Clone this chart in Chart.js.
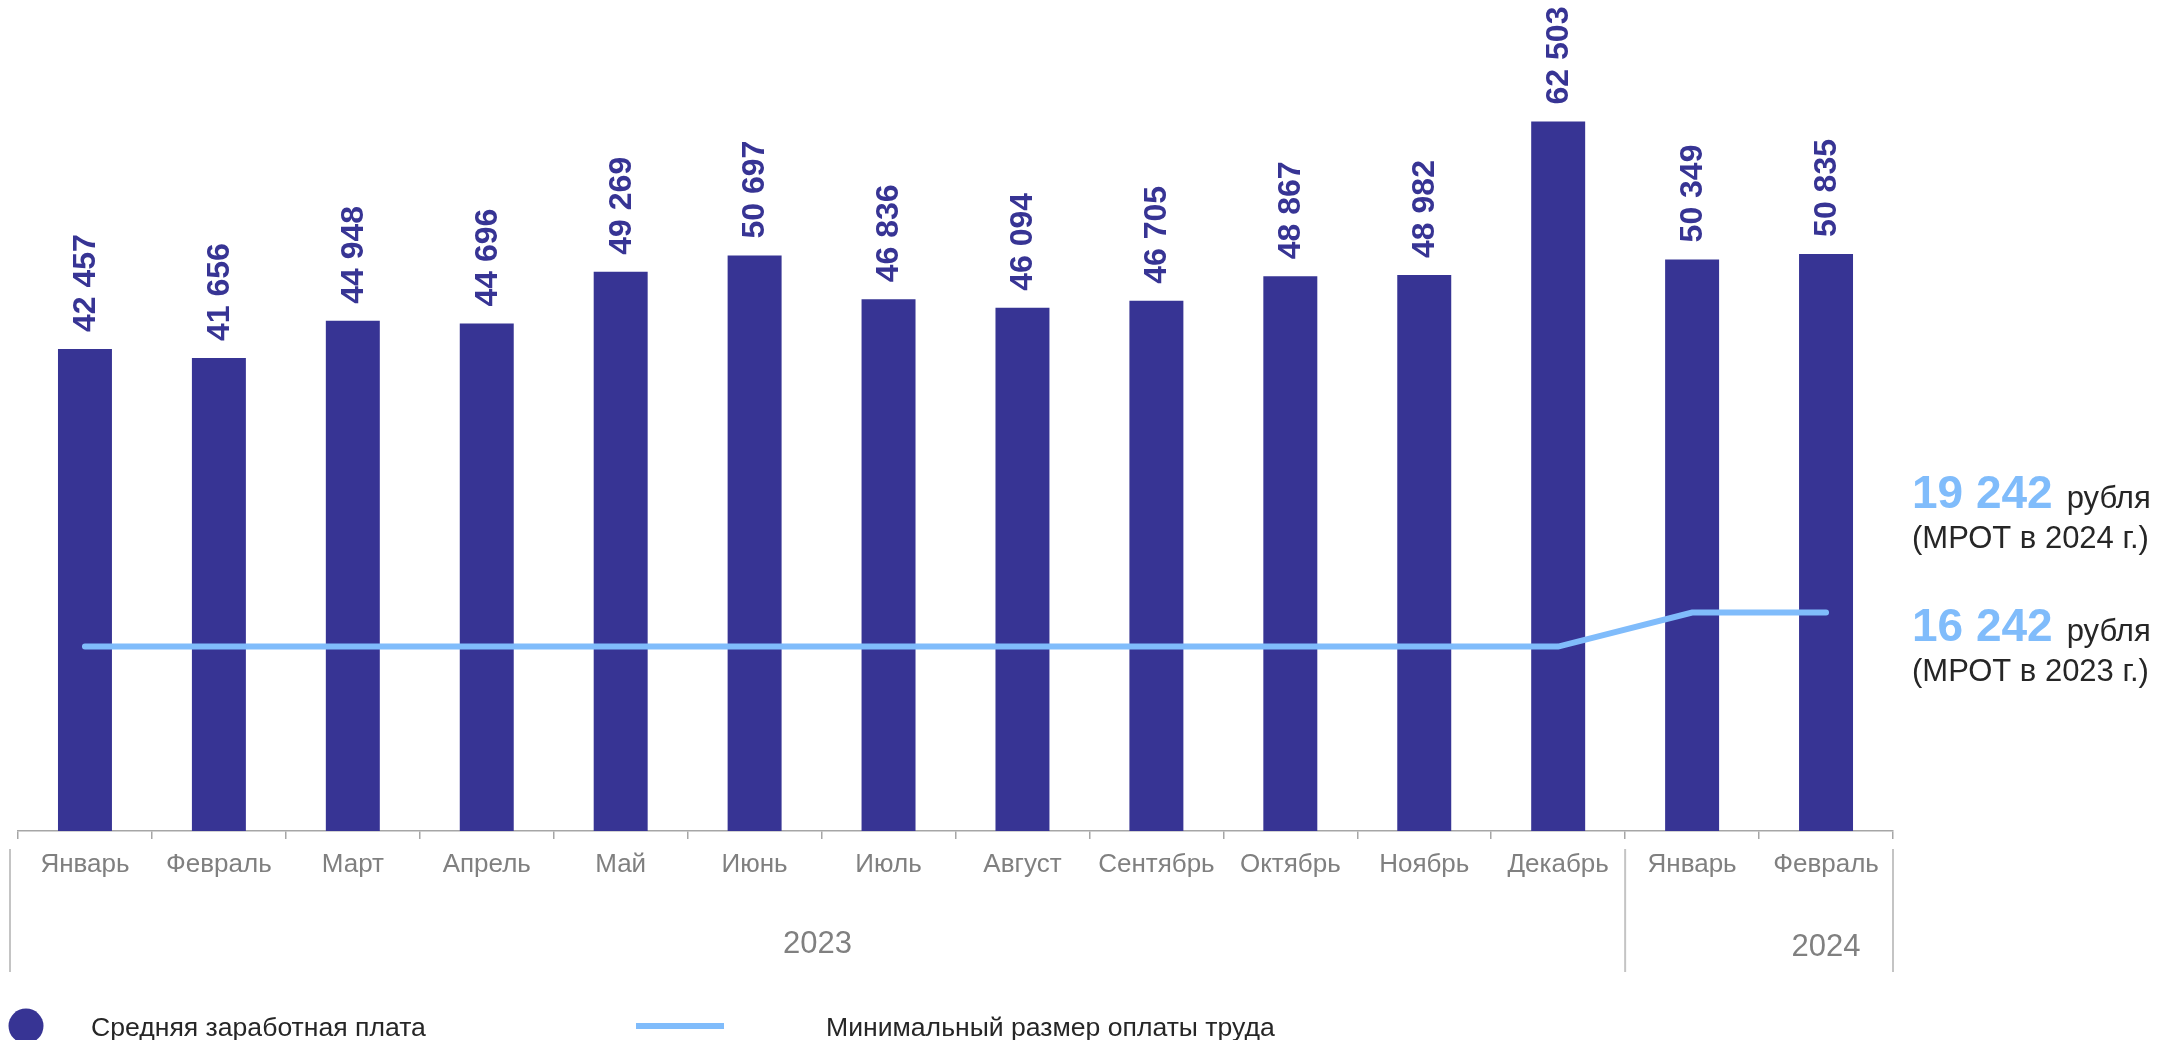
<!DOCTYPE html>
<html>
<head>
<meta charset="utf-8">
<script src="https://cdn.jsdelivr.net/npm/chart.js@4/dist/chart.umd.min.js"></script>
<style>
html,body{margin:0;padding:0;background:#fff;}
#wrap{position:relative;width:2162px;height:1040px;}
</style>
</head>
<body>
<div id="wrap"><canvas id="c"></canvas></div>
<script>
const months = ['Январь','Февраль','Март','Апрель','Май','Июнь','Июль','Август','Сентябрь','Октябрь','Ноябрь','Декабрь','Январь','Февраль'];
const salary = [42457,41656,44948,44696,49269,50697,46836,46094,46705,48867,48982,62503,50349,50835];
const mrot = [16242,16242,16242,16242,16242,16242,16242,16242,16242,16242,16242,16242,19242,19242];
const years = ['2023','2024'];
const yearCounts = [12,2];
const seriesNames = ['Средняя заработная плата','Минимальный размер оплаты труда'];
const mrotNotes = [
  {value:19242, unit:'рубля', note:'(МРОТ в 2024 г.)'},
  {value:16242, unit:'рубля', note:'(МРОТ в 2023 г.)'}
];

const BAR = '#373494';
const LINE = '#80bcfb';
const GRAY = '#808080';
const DARK = '#262626';
const FONT = '"Liberation Sans", Arial, sans-serif';
const fmt = n => n.toString().replace(/\B(?=(\d{3})+(?!\d))/g, ' ');

const overlay = {
  id: 'overlay',
  afterDatasetsDraw(chart) {
    const ctx = chart.ctx;
    const meta = chart.getDatasetMeta(1);
    ctx.save();
    ctx.fillStyle = BAR;
    ctx.font = 'bold 32px ' + FONT;
    ctx.textAlign = 'left';
    ctx.textBaseline = 'middle';
    meta.data.forEach((bar, i) => {
      ctx.save();
      ctx.translate(bar.x, bar.y - 17);
      ctx.rotate(-Math.PI / 2);
      ctx.fillText(fmt(salary[i]), 0, 1);
      ctx.restore();
    });
    ctx.restore();
  },
  afterDraw(chart) {
    const ctx = chart.ctx;
    const xs = chart.scales.x;
    const ys = chart.scales.y;
    const ca = chart.chartArea;
    const step = xs.getPixelForValue(1) - xs.getPixelForValue(0);
    ctx.save();
    ctx.strokeStyle = '#c4c4c4';
    ctx.lineWidth = 2;
    const top = ca.bottom + 18, bot = ca.bottom + 141;
    const seps = [ca.left - 8];
    let idx = 0;
    yearCounts.forEach(c => { idx += c; seps.push(xs.getPixelForValue(idx - 1) + step / 2); });
    seps.forEach(x => { ctx.beginPath(); ctx.moveTo(x, top); ctx.lineTo(x, bot); ctx.stroke(); });
    ctx.fillStyle = GRAY;
    ctx.font = '31px ' + FONT;
    ctx.textAlign = 'center';
    ctx.textBaseline = 'middle';
    ctx.fillText(years[0], (seps[0] + seps[1]) / 2, ca.bottom + 113);
    ctx.fillText(years[1], xs.getPixelForValue(yearCounts[0] + yearCounts[1] - 1), ca.bottom + 116);
    const y16 = ys.getPixelForValue(mrotNotes[1].value);
    const ax = ca.right + 19;
    const baselines = [y16 - 139, y16 - 6];
    ctx.textAlign = 'left';
    ctx.textBaseline = 'alphabetic';
    mrotNotes.forEach((m, i) => {
      const b = baselines[i];
      ctx.font = 'bold 46px ' + FONT;
      ctx.fillStyle = LINE;
      const t = fmt(m.value);
      ctx.fillText(t, ax, b);
      const w = ctx.measureText(t).width;
      ctx.font = '31px ' + FONT;
      ctx.fillStyle = DARK;
      ctx.fillText(m.unit, ax + w + 14, b);
      ctx.fillText(m.note, ax, b + 40);
    });
    ctx.fillStyle = BAR;
    ctx.beginPath();
    ctx.arc(26, 1026, 17.5, 0, Math.PI * 2);
    ctx.fill();
    ctx.strokeStyle = LINE;
    ctx.lineWidth = 6;
    ctx.beginPath();
    ctx.moveTo(636, 1026);
    ctx.lineTo(724, 1026);
    ctx.stroke();
    ctx.fillStyle = DARK;
    ctx.font = '26.6px ' + FONT;
    ctx.textBaseline = 'middle';
    ctx.fillText(seriesNames[0], 91, 1029);
    ctx.fillText(seriesNames[1], 826, 1029);
    ctx.restore();
  }
};

new Chart(document.getElementById('c'), {
  data: {
    labels: months,
    datasets: [
      {
        type: 'line',
        label: seriesNames[1],
        data: mrot,
        borderColor: LINE,
        borderWidth: 6,
        borderCapStyle: 'round',
        pointRadius: 0,
        tension: 0,
        order: 0
      },
      {
        type: 'bar',
        label: seriesNames[0],
        data: salary,
        backgroundColor: BAR,
        borderWidth: 0,
        categoryPercentage: 1,
        barPercentage: 0.403,
        order: 1
      }
    ]
  },
  options: {
    responsive: true,
    maintainAspectRatio: false,
    animation: false,
    layout: { padding: { left: 18, right: 269, top: 0, bottom: 109 } },
    plugins: { legend: { display: false }, tooltip: { enabled: false } },
    scales: {
      x: {
        offset: true,
        grid: { display: true, offset: true, drawOnChartArea: false, drawTicks: true, tickLength: 8, color: '#a6a6a6', lineWidth: 1.5 },
        border: { display: true, color: '#a6a6a6', width: 1.5 },
        ticks: { color: GRAY, font: { family: FONT, size: 26 }, padding: 10, maxRotation: 0, autoSkip: false },
        afterFit: s => { s.height = 100; }
      },
      y: {
        display: false,
        min: 0,
        max: 73200
      }
    }
  },
  plugins: [overlay]
});
</script>
</body>
</html>
